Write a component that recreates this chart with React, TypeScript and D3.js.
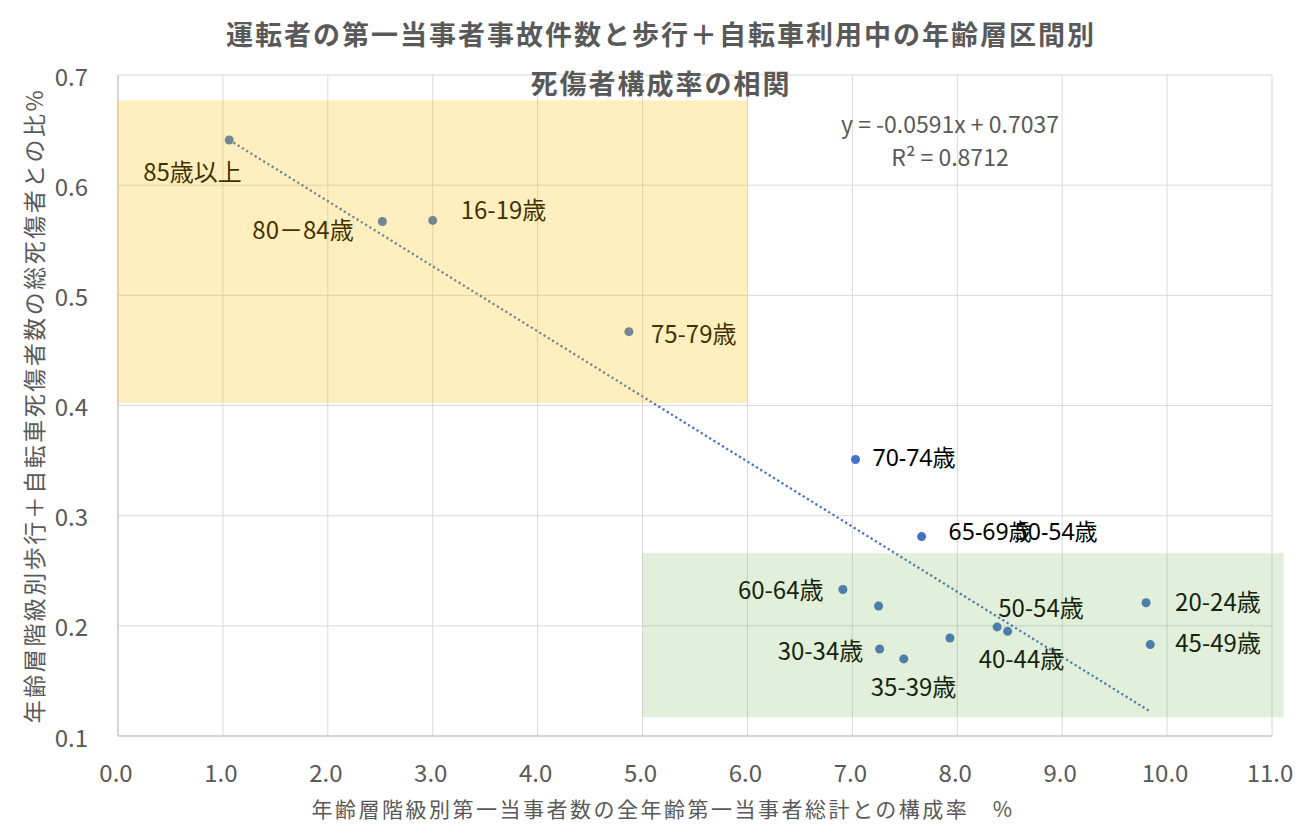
import * as d3 from 'd3';

// chart data
const ageGroups = ['85歳以上', '80-84歳', '16-19歳', '75-79歳', '70-74歳', '65-69歳', '60-64歳', '55-59歳', '30-34歳', '35-39歳', '25-29歳', '50-54歳', '40-44歳', '20-24歳', '45-49歳'];
const driverShare = [1.06, 2.52, 3.0, 4.87, 7.03, 7.66, 6.91, 7.25, 7.26, 7.49, 7.93, 8.38, 8.48, 9.8, 9.84];
const casualtyRatio = [0.641, 0.567, 0.568, 0.467, 0.351, 0.281, 0.233, 0.218, 0.179, 0.17, 0.189, 0.199, 0.195, 0.221, 0.183];
// text shown next to each point ('' = no label)
const shownLabels = ['85歳以上', '80－84歳', '16-19歳', '75-79歳', '70-74歳', '65-69歳', '60-64歳', '', '30-34歳', '35-39歳', '', '50-54歳', '40-44歳', '20-24歳', '45-49歳'];
const xTicks = [0, 1, 2, 3, 4, 5, 6, 7, 8, 9, 10, 11];
const yTicks = [0.1, 0.2, 0.3, 0.4, 0.5, 0.6, 0.7];
const trendSlope = -0.0591;
const trendIntercept = 0.7037;
const rSquared = 0.8712;

const TITLE_1 = '運転者の第一当事者事故件数と歩行＋自転車利用中の年齢層区間別';
const TITLE_2 = '死傷者構成率の相関';
const X_TITLE = '年齢層階級別第一当事者数の全年齢第一当事者総計との構成率　%';
const Y_TITLE = '年齢層階級別歩行＋自転車死傷者数の総死傷者との比%';

// layout
const W = 1312;
const H = 837;
const PLOT = { left: 118, right: 1272, top: 75, bottom: 736 };
const FONT = '"Noto Sans CJK JP", "Noto Sans", sans-serif';
const FONT_WIDE = '"Noto Sans", "Noto Sans CJK JP", sans-serif';
const GREY = '#595959';
const BLUE = '#4472C4';

// label offsets from the point, px (dx to left edge of text, dy to middle)
const LABEL_POS: Record<string, [number, number]> = {
  '85歳以上': [-86, 31],
  '80－84歳': [-130, 7],
  '16-19歳': [28, -12],
  '75-79歳': [22, 1],
  '70-74歳': [17, -2],
  '65-69歳': [27, -6],
  '60-64歳': [-105, -1],
  '30-34歳': [-102, 1],
  '35-39歳': [-33, 27],
  '50-54歳': [1, -20],
  '40-44歳': [-29, 26],
  '20-24歳': [29, -2],
  '45-49歳': [25, -3],
};

// shaded boxes, in data units
const yellowBox = { x0: 0, x1: 6.0, y0: 0.4023, y1: 0.677 };
const greenBox = { x0: 5.0, x1: 11.11, y0: 0.117, y1: 0.266 };

export default function App() {
  const x = d3.scaleLinear().domain([0, 11]).range([PLOT.left, PLOT.right]);
  const y = d3.scaleLinear().domain([0.1, 0.7]).range([PLOT.bottom, PLOT.top]);
  const fmt = d3.format('.1f');

  const xs = d3.extent(driverShare) as [number, number];
  const trend = d3
    .line<number>()
    .x((d) => x(d))
    .y((d) => y(trendSlope * d + trendIntercept))(xs);

  const pts = driverShare.map((d, i) => ({ x: d, y: casualtyRatio[i], label: shownLabels[i], name: ageGroups[i] }));

  return (
    <svg
      width={W}
      height={H}
      style={{ position: 'absolute', left: 0, top: 0, background: '#fff' }}
    >
      {/* grid */}
      <g stroke="#D9D9D9" strokeWidth={1}>
        {xTicks.map((t) => (
          <line key={'gx' + t} x1={x(t)} x2={x(t)} y1={PLOT.top} y2={PLOT.bottom} />
        ))}
        {yTicks.map((t) => (
          <line key={'gy' + t} x1={PLOT.left} x2={PLOT.right} y1={y(t)} y2={y(t)} />
        ))}
      </g>
      <line x1={PLOT.left} x2={PLOT.left} y1={PLOT.top} y2={PLOT.bottom} stroke="#BFBFBF" />
      <line x1={PLOT.left} x2={PLOT.right} y1={PLOT.bottom} y2={PLOT.bottom} stroke="#BFBFBF" />

      {/* tick labels */}
      <g fontFamily={FONT} fontSize={24} fill={GREY}>
        {xTicks.map((t) => (
          <text key={'tx' + t} x={x(t) - 2} y={PLOT.bottom + 35} textAnchor="middle" dominantBaseline="central">
            {fmt(t)}
          </text>
        ))}
        {yTicks.map((t) => (
          <text key={'ty' + t} x={PLOT.left - 30} y={y(t)} textAnchor="end" dominantBaseline="central">
            {fmt(t)}
          </text>
        ))}
      </g>

      {/* trend line */}
      <path d={trend || ''} fill="none" stroke={BLUE} strokeWidth={2.25} strokeDasharray="2.25,2.75" />

      {/* points */}
      {pts.map((p) => (
        <circle key={p.name} cx={x(p.x)} cy={y(p.y)} r={4.5} fill={BLUE} />
      ))}

      {/* point labels */}
      <g fill="#000">
        {pts
          .filter((p) => p.label)
          .map((p) => {
            const [dx, dy] = LABEL_POS[p.label] || [10, 0];
            const wide = p.label === '70-74歳' || p.label === '65-69歳';
            return (
              <text
                key={'l' + p.name}
                x={x(p.x) + dx}
                y={y(p.y) + dy}
                dominantBaseline="central"
                fontFamily={wide ? FONT_WIDE : FONT}
                fontSize={wide ? 23 : 24}
              >
                {p.label}
              </text>
            );
          })}
        {/* the stray duplicate label sitting on 65-69 */}
        <text
          x={x(driverShare[5]) + 93}
          y={y(casualtyRatio[5]) - 6}
          dominantBaseline="central"
          fontFamily={FONT_WIDE}
          fontSize={23}
        >
          50-54歳
        </text>
      </g>

      {/* highlighted ranges (semi-transparent overlays) */}
      <rect
        x={x(yellowBox.x0)}
        y={y(yellowBox.y1)}
        width={x(yellowBox.x1) - x(yellowBox.x0)}
        height={y(yellowBox.y0) - y(yellowBox.y1)}
        fill="#FFC000"
        fillOpacity={0.25}
      />
      <rect
        x={x(greenBox.x0)}
        y={y(greenBox.y1)}
        width={x(greenBox.x1) - x(greenBox.x0)}
        height={y(greenBox.y0) - y(greenBox.y1)}
        fill="#70AD47"
        fillOpacity={0.2}
      />

      {/* trend equation */}
      <g fontFamily={FONT} fontSize={23} fill={GREY} textAnchor="middle">
        <text x={950} y={123} dominantBaseline="central">
          {`y = ${trendSlope}x + ${trendIntercept}`}
        </text>
        <text x={950} y={156} dominantBaseline="central">
          {`R² = ${rSquared}`}
        </text>
      </g>

      {/* titles */}
      <g fontFamily={FONT} fontWeight="bold" fontSize={27} fill={GREY} textAnchor="middle" letterSpacing={2}>
        <text x={661} y={33} dominantBaseline="central">{TITLE_1}</text>
        <text x={661} y={82} dominantBaseline="central">{TITLE_2}</text>
      </g>
      <text
        x={663}
        y={808}
        textAnchor="middle"
        dominantBaseline="central"
        fontFamily={FONT}
        fontSize={21}
        fill={GREY}
        letterSpacing={2.5}
      >
        {X_TITLE}
      </text>
      <text
        transform={`translate(33, ${(PLOT.top + PLOT.bottom) / 2}) rotate(-90)`}
        textAnchor="middle"
        dominantBaseline="central"
        fontFamily={FONT}
        fontSize={23}
        fill={GREY}
        letterSpacing={2.5}
      >
        {Y_TITLE}
      </text>
    </svg>
  );
}
